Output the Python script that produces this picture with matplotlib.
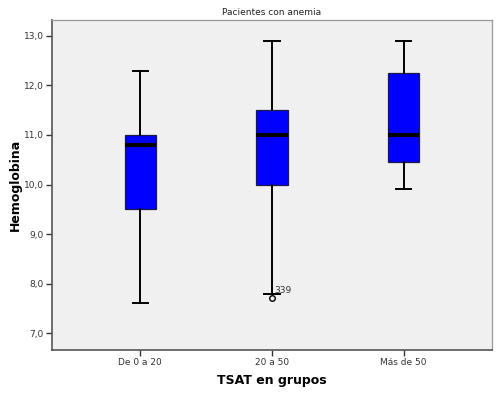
import matplotlib
matplotlib.use("Agg")
import matplotlib.pyplot as plt
from matplotlib.ticker import FuncFormatter

# Box summary values
categories = ["De 0 a 20", "20 a 50", "Más de 50"]
whislo = [7.6, 7.8, 9.9]
q1 = [9.5, 10.0, 10.45]
med = [10.8, 11.0, 11.0]
q3 = [11.0, 11.5, 12.25]
whishi = [12.3, 12.9, 12.9]
fliers = [[], [7.7], []]
flier_labels = [[], ["339"], []]

stats = []
for i, cat in enumerate(categories):
    stats.append({"label": cat, "whislo": whislo[i], "q1": q1[i], "med": med[i],
                  "q3": q3[i], "whishi": whishi[i], "fliers": fliers[i]})

fig = plt.figure(figsize=(4.97, 3.94), dpi=100)
ax = fig.add_axes([52 / 497, 1 - 350 / 394, 440 / 497, 330 / 394])
ax.set_facecolor("#f0f0f0")

positions = [1, 2, 3]
ax.bxp(stats, positions=positions, widths=0.236, patch_artist=True,
       capwidths=0.115,
       boxprops=dict(facecolor="#0000ff", edgecolor="#1a1a4a", linewidth=0.9),
       medianprops=dict(color="black", linewidth=3.0, solid_capstyle="butt"),
       whiskerprops=dict(color="black", linewidth=1.4),
       capprops=dict(color="black", linewidth=1.4),
       flierprops=dict(marker="o", markersize=4, markerfacecolor="none",
                       markeredgecolor="black", markeredgewidth=1.0))

# outlier case numbers
for i, (vals, labs) in enumerate(zip(fliers, flier_labels)):
    for v, lab in zip(vals, labs):
        ax.annotate(lab, (positions[i], v), xytext=(2, 4), textcoords="offset points",
                    fontsize=6.5, color="#333333")

ax.set_xlim(0.33, 3.67)
ax.set_ylim(6.66, 13.32)
ax.set_yticks([7, 8, 9, 10, 11, 12, 13])
ax.yaxis.set_major_formatter(FuncFormatter(lambda v, p: f"{v:.1f}".replace(".", ",")))
ax.set_xticks(positions)
ax.set_xticklabels(categories)

ax.tick_params(axis="both", labelsize=6.5, labelcolor="#333333", color="#333333",
               length=4, width=1.0, direction="out", pad=2)

for side in ["left", "bottom"]:
    ax.spines[side].set_color("#555555")
    ax.spines[side].set_linewidth(1.2)
for side in ["top", "right"]:
    ax.spines[side].set_color("#999999")
    ax.spines[side].set_linewidth(0.9)

ax.set_title("Pacientes con anemia", fontsize=6.5, color="#222222", pad=3.5)
ax.set_ylabel("Hemoglobina", fontsize=9, fontweight="bold")
ax.set_xlabel("TSAT en grupos", fontsize=9, fontweight="bold")
ax.yaxis.set_label_coords(-0.068, 0.5)
ax.xaxis.set_label_coords(0.5, -0.072)

fig.savefig("out.png", dpi=100)
